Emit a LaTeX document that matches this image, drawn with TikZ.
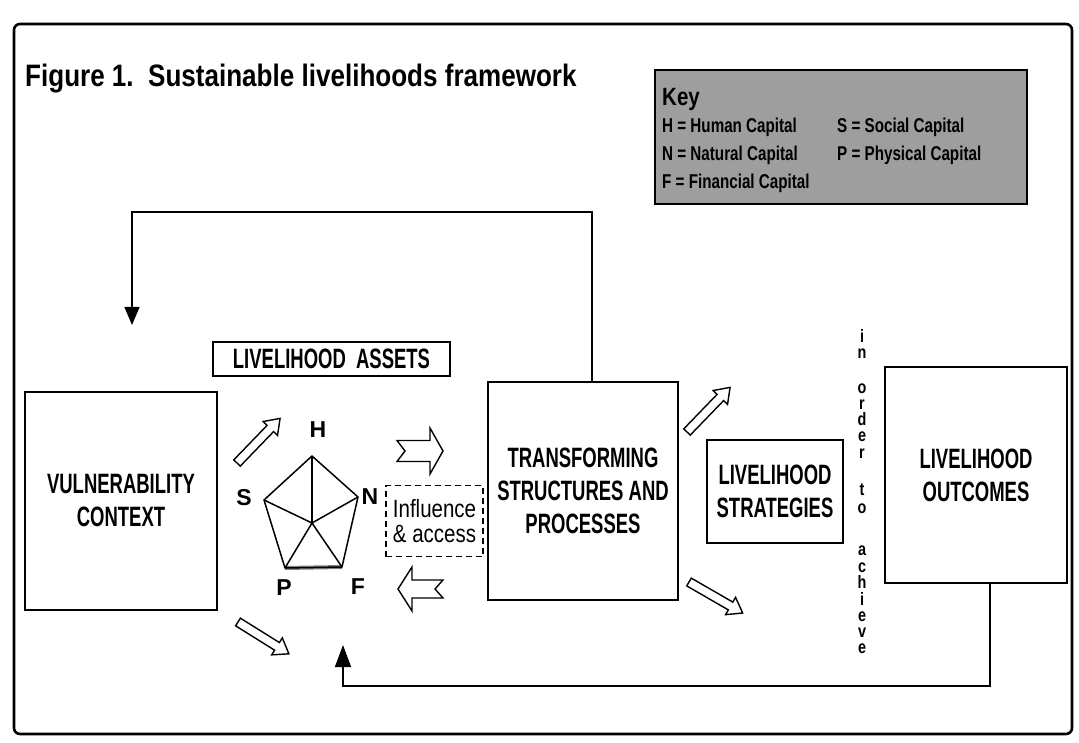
\documentclass[tikz,border=0pt]{standalone}
\usepackage{fontspec}
\setmainfont{Liberation Sans}
\newfontfamily\cnd[FakeStretch=0.66]{Liberation Sans}
\newfontfamily\cndk[FakeStretch=0.76]{Liberation Sans}
\newfontfamily\cndi[FakeStretch=0.82]{Liberation Sans}
\newfontfamily\cndt[FakeStretch=0.84]{Liberation Sans}
\newfontfamily\cndv[FakeStretch=0.8]{Liberation Sans}
\usetikzlibrary{arrows.meta,calc}
\definecolor{keygray}{RGB}{158,158,158}
\newcommand\barrow[8]{\draw[barr,shift={(#1,#2)},rotate=#3] (0,#5) -- (#4-#7,#5) -- (#4-#7,#6) -- (#4,0) -- (#4-#7,-#6) -- (#4-#7,-#5) -- (0,-#5) -- (#8,0) -- cycle;}
\tikzset{
  bx/.style={draw, line width=1.6pt, inner sep=0pt, align=center, font=\cnd\bfseries\fontsize{28}{33}\selectfont},
  barr/.style={draw, line width=1.4pt, fill=white, line join=miter},
  fb/.style={line width=1.5pt},
  lbl/.style={font=\bfseries\fontsize{23}{26}\selectfont, inner sep=0pt},
  keytxt/.style={anchor=base west, inner sep=0pt, font=\cndk\bfseries\fontsize{20}{22}\selectfont},
  vlet/.style={inner sep=0pt, font=\cndv\bfseries\fontsize{18}{18}\selectfont},
  pent/.style={line width=1.5pt, line join=round}
}
\begin{document}
\begin{tikzpicture}[x=1pt,y=-1pt]
\useasboundingbox (0,0) rectangle (1079,743);
\fill[white] (0,0) rectangle (1079,743);
% frame
\draw[line width=2.6pt, rounded corners=6pt] (14,24) rectangle (1072,734);
% title
\node[anchor=base west, inner sep=0pt, font=\cndt\bfseries\fontsize{31}{33}\selectfont] (title) at (25,87) {Figure 1.\ \ Sustainable livelihoods framework};
% key
\node[draw, line width=1.4pt, fill=keygray, minimum width=372pt, minimum height=134pt, inner sep=0pt] (key) at (841,137) {};
\node[keytxt, font=\cndi\bfseries\fontsize{25}{27}\selectfont] (keyt) at (662,106) {Key};
\node[keytxt] (kH) at (662,133) {H = Human Capital};
\node[keytxt] (kS) at (837,133) {S = Social Capital};
\node[keytxt] (kN) at (662,161) {N = Natural Capital};
\node[keytxt] (kP) at (837,161) {P = Physical Capital};
\node[keytxt] (kF) at (662,189) {F = Financial Capital};
% boxes
\node[bx, minimum width=192pt, minimum height=218pt] (vc) at (121,501) {VULNERABILITY\\CONTEXT};
\node[bx, minimum width=237pt, minimum height=34pt] (la) at (331.5,359) {LIVELIHOOD\ \ ASSETS};
\node[bx, minimum width=190pt, minimum height=218pt] (ts) at (583,491) {TRANSFORMING\\STRUCTURES AND\\PROCESSES};
\node[bx, minimum width=136pt, minimum height=103pt] (ls) at (775,491.5) {LIVELIHOOD\\STRATEGIES};
\node[bx, minimum width=182pt, minimum height=216pt] (lo) at (976,475) {LIVELIHOOD\\OUTCOMES};
\node[draw, dashed, dash pattern=on 6pt off 4pt, line width=1.4pt, minimum width=97pt, minimum height=71pt, inner sep=0pt, align=center, font=\cndi\fontsize{25}{25}\selectfont] (ia) at (434.5,521) {Influence\\\& access};
% feedback top
\coordinate (t1) at (592,212);
\coordinate (atip) at (132,325);
\draw[fb, -{Triangle[width=15pt,length=18pt]}] (t1 |- ts.north) -- (t1) -| (atip);
% feedback bottom
\coordinate (b1) at (990,686);
\coordinate (btip) at (343,645);
\draw[fb, -{Triangle[width=16pt,length=22pt]}] (b1 |- lo.south) -- (b1) -| (btip);
% pentagon
\coordinate (pH) at (312,456);
\coordinate (pN) at (358,497);
\coordinate (pF) at (342,567);
\coordinate (pP) at (285,568);
\coordinate (pS) at (264,500);
\coordinate (pC) at (312,523);
\draw[line width=4pt, gray] (pP) -- (pF);
\draw[pent] (pH) -- (pN) -- (pF) -- (pP) -- (pS) -- cycle;
\foreach \v in {pH,pN,pF,pP,pS} \draw[pent] (pC) -- (\v);
\node[lbl] (lH) at (318,430) {H};
\node[lbl] (lS) at (244,498) {S};
\node[lbl] (lN) at (370,497) {N};
\node[lbl] (lP) at (284,588) {P};
\node[lbl] (lF) at (358,587) {F};
% block arrows
\barrow{237}{463}{46}{62}{4.5}{10}{14}{0}
\barrow{687}{432}{46}{62}{4.5}{10}{14}{0}
\barrow{238}{622}{-32}{60}{4.5}{10}{14}{0}
\barrow{689}{582}{-30}{62}{4.5}{10}{14}{0}
\barrow{397}{451}{0}{46}{10.5}{23}{13}{8}
\barrow{443}{589}{180}{45}{9}{22}{14}{8}
% vertical text
\foreach \c/\y [count=\i] in {i/336,n/352,o/387,r/403,d/419,e/435,r/452,t/489,o/507,a/549,c/566,h/582,i/599,e/615,v/631,e/647}
  \node[vlet, anchor=base] (v\i) at (862,\y+6) {\c};
\end{tikzpicture}
\end{document}
